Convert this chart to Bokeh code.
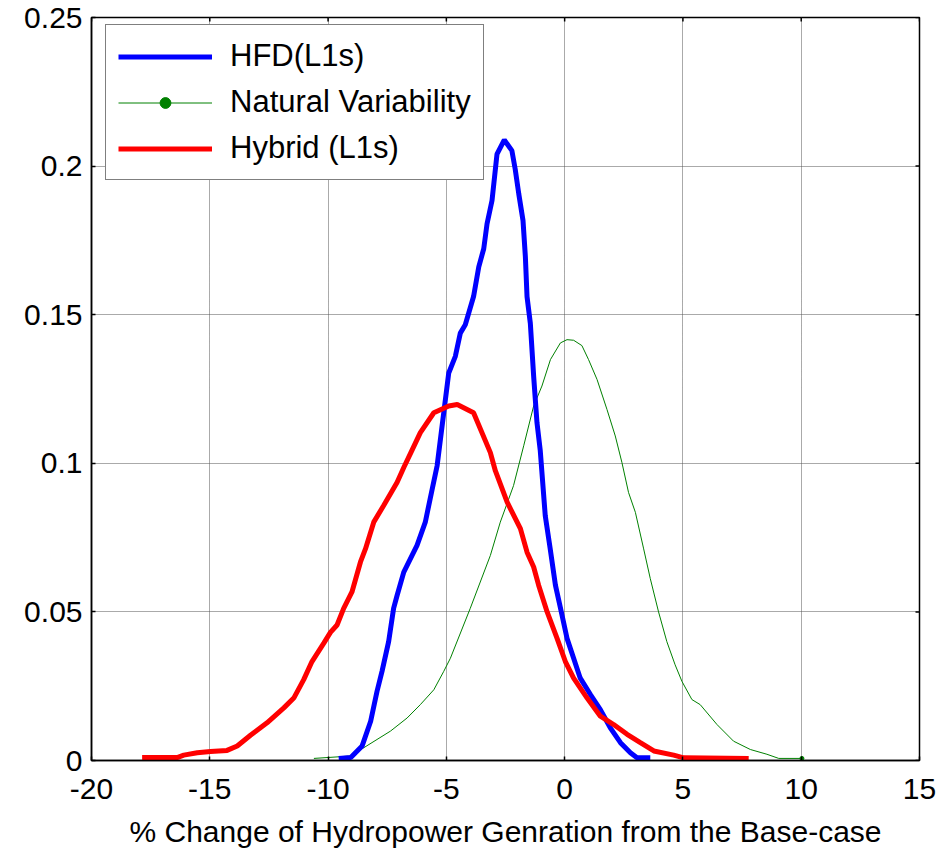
import math
from bokeh.plotting import figure
from bokeh.models import Legend, LegendItem, Range1d, FixedTicker
from bokeh.embed import file_html
from bokeh.resources import INLINE

# ---- data ----
hfd_x = [-9.55, -9.04, -8.56, -8.2, -7.93, -7.72, -7.44, -7.23, -7.08, -6.8, -6.24, -5.89,
         -5.6, -5.39, -5.18, -4.9, -4.62, -4.41, -4.2, -3.85, -3.63, -3.42, -3.28, -3.07,
         -2.86, -2.55, -2.23, -2.09, -1.94, -1.76, -1.66, -1.59, -1.45, -1.31, -1.17, -1.03,
         -0.82, -0.61, -0.39, -0.11, 0.1, 0.38, 0.66, 1.09, 1.51, 1.93, 2.36, 2.78, 3.06, 3.62]
hfd_y = [0.0007, 0.001, 0.0049, 0.0132, 0.0233, 0.03, 0.04, 0.0512, 0.0556, 0.0634, 0.0724, 0.0802,
         0.0913, 0.0992, 0.1126, 0.1304, 0.136, 0.1438, 0.1466, 0.1561, 0.1661, 0.1722, 0.1806, 0.1884,
         0.204, 0.2088, 0.2052, 0.199, 0.1907, 0.1817, 0.1695, 0.1561, 0.1471, 0.1293, 0.1137, 0.1042,
         0.0824, 0.0712, 0.059, 0.0489, 0.0411, 0.0344, 0.0277, 0.0222, 0.0171, 0.011, 0.006, 0.0026,
         0.0009, 0.0009]

hyb_x = [-17.86, -16.38, -16.1, -15.53, -14.97, -14.27, -13.84, -13.28, -12.58, -11.87, -11.45,
         -11.03, -10.68, -10.18, -9.9, -9.62, -9.34, -8.99, -8.63, -8.42, -8.07, -7.65, -7.08, -6.8,
         -6.5, -6.1, -5.53, -4.9, -4.54, -3.85, -3.14, -2.93, -2.43, -1.87, -1.59, -1.31, -1.1,
         -0.74, -0.32, 0.03, 0.38, 0.95, 1.51, 2.07, 2.64, 3.2, 3.77, 4.61, 5.03, 7.78]
hyb_y = [0.001, 0.001, 0.0018, 0.0026, 0.003, 0.0034, 0.0049, 0.0085, 0.0127, 0.0177, 0.021,
         0.0272, 0.0333, 0.0395, 0.0431, 0.0456, 0.0512, 0.0567, 0.0668, 0.0712, 0.0802, 0.0858,
         0.0936, 0.0986, 0.1036, 0.1103, 0.117, 0.1193, 0.1198, 0.117, 0.1036, 0.0975, 0.0869,
         0.078, 0.0701, 0.0651, 0.059, 0.05, 0.0411, 0.0333, 0.0277, 0.021, 0.0149, 0.0121,
         0.0088, 0.006, 0.0032, 0.0018, 0.0009, 0.0007]

nat_x = [-10.6, -9.05, -8.49, -7.36, -6.66, -6.1, -5.53, -5.11, -4.83, -3.99, -3.14, -2.72,
         -2.16, -1.73, -1.31, -0.96, -0.6, -0.18, 0.1, 0.38, 0.73, 1.01, 1.37, 1.79, 2.14, 2.42,
         2.7, 2.99, 3.34, 3.62, 3.97, 4.32, 4.67, 4.96, 5.38, 5.73, 6.44, 7.14, 7.85, 8.55, 9.05, 10.03]
nat_y = [0.0007, 0.0015, 0.0043, 0.0099, 0.0143, 0.0188, 0.0238, 0.03, 0.0344, 0.0512, 0.069,
         0.0802, 0.0925, 0.1059, 0.1193, 0.126, 0.1349, 0.1405, 0.1416, 0.1414, 0.1396, 0.1349,
         0.1282, 0.1181, 0.1092, 0.1003, 0.0902, 0.0835, 0.0712, 0.0612, 0.05, 0.04, 0.0322,
         0.0266, 0.0205, 0.0188, 0.0121, 0.0065, 0.0037, 0.0021, 0.0007, 0.0007]

x_ticks = [-20, -15, -10, -5, 0, 5, 10, 15]
x_tick_labels = ["-20", "-15", "-10", "-5", "0", "5", "10", "15"]
y_ticks = [0, 0.05, 0.1, 0.15, 0.2, 0.25]
y_tick_labels = ["0", "0.05", "0.1", "0.15", "0.2", "0.25"]

series_names = ["HFD(L1s)", "Natural Variability", "Hybrid (L1s)"]
x_label = "% Change of Hydropower Genration from the Base-case"

FONT = "Liberation Sans"
X_MIN, X_MAX = -20, 15
Y_MIN, Y_MAX = 0, 0.25

p = figure(width=944, height=851, output_backend="svg", toolbar_location=None,
           x_range=Range1d(X_MIN, X_MAX), y_range=Range1d(Y_MIN, Y_MAX),
           min_border_left=91, min_border_right=25, min_border_top=17, min_border_bottom=91,
           background_fill_color="white", border_fill_color="white")
p.outline_line_color = "black"
p.outline_line_width = 1.5

# grid
for g in (p.xgrid, p.ygrid):
    g.grid_line_color = "#555555"
    g.grid_line_dash = "1 1"
    g.grid_line_width = 1
p.xgrid.ticker = FixedTicker(ticks=x_ticks)
p.ygrid.ticker = FixedTicker(ticks=y_ticks)

# axes
def style_axis(ax, ticks, labels):
    ax.ticker = FixedTicker(ticks=ticks)
    ax.major_label_overrides = {t: l for t, l in zip(ticks, labels)}
    ax.axis_line_color = "black"
    ax.axis_line_width = 1.5
    ax.major_tick_line_color = "black"
    ax.major_tick_line_width = 1.5
    ax.major_tick_in = 4
    ax.major_tick_out = 0
    ax.minor_tick_line_color = None
    ax.major_label_text_font = FONT
    ax.major_label_text_font_size = "30px"
    ax.major_label_text_color = "black"

style_axis(p.xaxis[0], x_ticks, x_tick_labels)
style_axis(p.yaxis[0], y_ticks, y_tick_labels)
p.xaxis.major_label_standoff = 18
p.yaxis.major_label_standoff = 9
p.xaxis.axis_label = x_label
p.xaxis.axis_label_text_font = FONT
p.xaxis.axis_label_text_font_size = "30px"
p.xaxis.axis_label_text_font_style = "normal"
p.xaxis.axis_label_text_color = "black"
p.xaxis.axis_label_standoff = 13

# inward tick marks on the top and right edges (mirrored ticks)
p.scatter(x_ticks, [Y_MAX] * len(x_ticks), marker="dash", size=8, angle=math.pi / 2,
          line_color="black", line_width=1.5)
p.scatter([X_MAX] * len(y_ticks), y_ticks, marker="dash", size=8,
          line_color="black", line_width=1.5)

# curves
r_nat = p.line(nat_x, nat_y, line_color="#008000", line_width=1)
r_nat_dot = p.scatter([nat_x[-1]], [nat_y[-1]], marker="circle", size=4,
                      fill_color="#008000", line_color="#008000")
r_hfd = p.line(hfd_x, hfd_y, line_color="#0000FF", line_width=5)
r_hyb = p.line(hyb_x, hyb_y, line_color="#FF0000", line_width=5)

legend = Legend(items=[
    LegendItem(label=series_names[0], renderers=[r_hfd]),
    LegendItem(label=series_names[1], renderers=[r_nat, r_nat_dot]),
    LegendItem(label=series_names[2], renderers=[r_hyb]),
], location=(14, 580))
legend.margin = 0
legend.padding = 12
legend.spacing = 8
legend.label_height = 38
legend.glyph_height = 27
legend.glyph_width = 94
legend.label_standoff = 18
legend.label_text_font = FONT
legend.label_text_font_size = "31px"
legend.label_text_color = "black"
legend.border_line_color = "black"
legend.border_line_width = 1.5
legend.background_fill_color = "white"
legend.background_fill_alpha = 1.0
p.add_layout(legend, "center")

open("out.html", "w").write(file_html(p, INLINE))
